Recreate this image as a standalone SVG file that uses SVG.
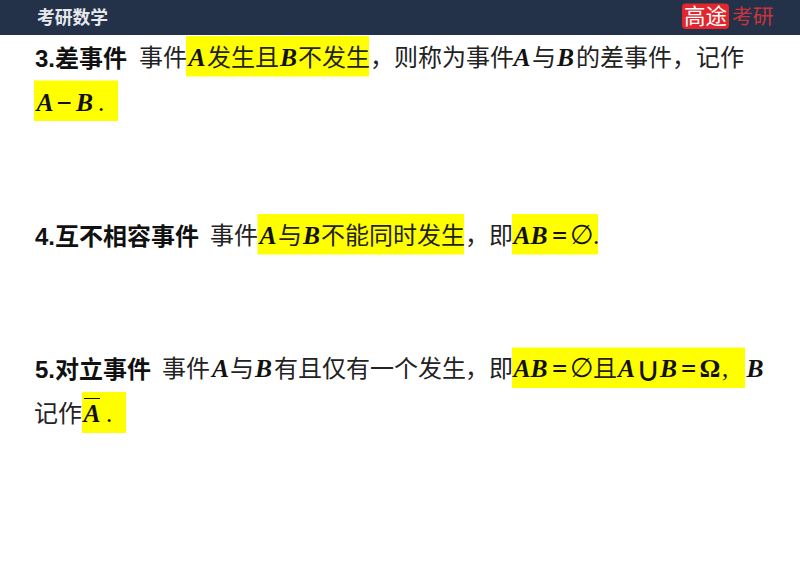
<svg xmlns="http://www.w3.org/2000/svg" width="800" height="566" viewBox="0 0 800 566">
<style>
.c{font-family:"Noto Sans CJK SC","Liberation Sans",sans-serif;font-size:24px;fill:#222}
.h{font-family:"Liberation Sans","Noto Sans CJK SC",sans-serif;font-size:24px;font-weight:700;fill:#111}
.m{font-family:"Liberation Serif",serif;font-size:25.500px;font-weight:700;font-style:italic;fill:#111}
.o{font-family:"Liberation Serif",serif;font-size:27px;font-weight:700;fill:#111}
.w{font-size:26px}
.d{font-family:"Liberation Serif",serif;font-size:25px;fill:#111}
.s{font-family:"DejaVu Sans",sans-serif;font-size:27px;fill:#111}
.u{font-family:"DejaVu Sans",sans-serif;font-size:34px;fill:#111}
.y{fill:#ffff00}
</style>
<rect width="800" height="35" fill="#233149"/>
<text x="37" y="24" font-family="'Noto Sans CJK SC',sans-serif" font-size="17.800" font-weight="700" fill="#e6e8ec">考研数学</text>
<rect x="682" y="3.500" width="47" height="25.500" rx="4" fill="#e1262d"/>
<text x="684" y="24" font-family="'Noto Sans CJK SC',sans-serif" font-size="21.500" fill="#fff">高途</text>
<text x="732" y="24" font-family="'Noto Sans CJK SC',sans-serif" font-size="20.800" fill="#c9343c">考研</text>

<rect class="y" x="186" y="36" width="183" height="40.500"/>
<rect class="y" x="34" y="80.500" width="84" height="40.500"/>
<rect class="y" x="257.500" y="214" width="206.500" height="40.500"/>
<rect class="y" x="512" y="214" width="86" height="40.500"/>
<rect class="y" x="512" y="347.500" width="233" height="40.500"/>
<rect class="y" x="82" y="392" width="44" height="41"/>

<text class="h" x="35" y="67">3.差事件</text>
<text class="c" x="139" y="66">事件</text>
<text class="m" x="188.500" y="66">A</text>
<text class="c" x="207" y="66">发生且</text>
<text class="m" x="280" y="66">B</text>
<text class="c" x="298" y="66">不发生</text>
<text class="c" x="370" y="66">，</text>
<text class="c" x="394" y="66">则称为事件</text>
<text class="m" x="513.500" y="66">A</text>
<text class="c" x="532" y="66">与</text>
<text class="m" x="557" y="66">B</text>
<text class="c" x="576" y="66">的差事件</text>
<text class="c" x="672" y="66">，</text>
<text class="c" x="696" y="66">记作</text>
<text class="m" x="36.500" y="111">A</text>
<text class="o" x="56.500" y="112">−</text>
<text class="m" x="76" y="111">B</text>
<text class="d" x="98" y="111">.</text>

<text class="h" x="35" y="245">4.互不相容事件</text>
<text class="c" x="210" y="244">事件</text>
<text class="m" x="259.500" y="244">A</text>
<text class="c" x="278" y="244">与</text>
<text class="m" x="303" y="244">B</text>
<text class="c" x="321" y="244">不能同时发生</text>
<text class="c" x="465" y="244">，</text>
<text class="c" x="489" y="244">即</text>
<text class="m" x="513.500" y="244">AB</text>
<text class="o" x="552" y="245">=</text>
<text class="s" x="570" y="244">∅</text>
<text class="d" x="593" y="244">.</text>

<text class="h" x="35" y="378">5.对立事件</text>
<text class="c" x="162" y="377">事件</text>
<text class="m" x="212" y="377">A</text>
<text class="c" x="230" y="377">与</text>
<text class="m" x="255" y="377">B</text>
<text class="c" x="274" y="377">有且仅有一个发生</text>
<text class="c" x="465" y="377">，</text>
<text class="c" x="489" y="377">即</text>
<text class="m" x="513.500" y="377">AB</text>
<text class="o" x="552" y="378">=</text>
<text class="s" x="570" y="377">∅</text>
<text class="c" x="593" y="377">且</text>
<text class="m" x="618" y="377">A</text>
<text class="u" x="636" y="381">∪</text>
<text class="m" x="660" y="377">B</text>
<text class="o" x="681" y="378">=</text>
<text class="o w" x="699.500" y="377">Ω</text>
<text class="d" x="722" y="377">,</text>
<text class="m" x="746.500" y="377">B</text>
<text class="c" x="34" y="422">记作</text>
<line x1="84" y1="398.500" x2="100" y2="398.500" stroke="#111" stroke-width="1"/>
<text class="m" x="83.500" y="422">A</text>
<text class="d" x="106" y="422">.</text>
</svg>
